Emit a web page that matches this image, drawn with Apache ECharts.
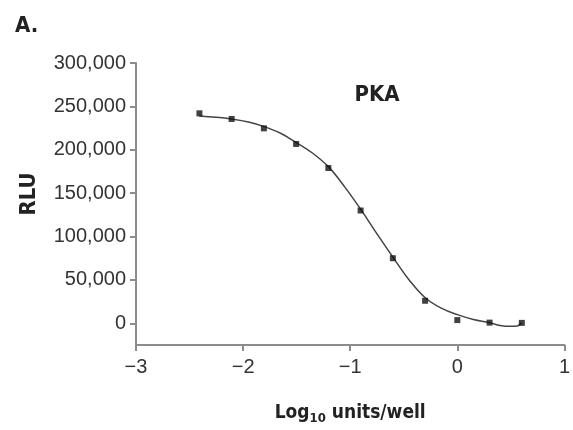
<!DOCTYPE html>
<html>
<head>
<meta charset="utf-8">
<script src="https://cdn.jsdelivr.net/npm/echarts@6/dist/echarts.min.js"></script>
<style>
  html, body { margin: 0; padding: 0; background: #fff; }
  #chart { width: 573px; height: 430px; }
</style>
</head>
<body>
<div id="chart"></div>
<script>
// measured points (log10 units/well vs RLU)
var pointX = [-2.408, -2.107, -1.806, -1.505, -1.204, -0.903, -0.602, -0.301, 0, 0.301, 0.602];
var pointY = [242000, 235500, 224700, 206700, 179000, 130000, 75000, 26000, 3700, 800, 500];

// fitted curve
var curveX = [-2.41, -2.25, -2.11, -1.95, -1.81, -1.65, -1.5, -1.35, -1.2, -1.05, -0.9, -0.75, -0.6, -0.45, -0.3, -0.15, 0, 0.15, 0.3, 0.4, 0.5, 0.56, 0.6];
var curveY = [239000, 237500, 235500, 232000, 227000, 219000, 208000, 196000, 180000, 157000, 131000, 103000, 76000, 50000, 29500, 17500, 10000, 4500, 800, -2500, -3500, -3000, 200];

var yTicks = [0, 50000, 100000, 150000, 200000, 250000, 300000];
var xTicks = [-3, -2, -1, 0, 1];

var boldFont = "'Liberation Sans Narrow', 'DejaVu Sans Condensed', 'Liberation Sans', sans-serif";
var axisGray = '#8c8c8c';

var myChart = echarts.init(document.getElementById('chart'));

function zip(a, b) {
    var res = [];
    for (var i = 0; i < a.length; i++) {
        res.push([a[i], b[i]]);
    }
    return res;
}

var option = {
    animation: false,
    title: [{
        text: 'A.',
        left: 10,
        top: 10,
        textStyle: { fontFamily: boldFont, fontWeight: 'bold', fontSize: 22, color: '#222' }
    }, {
        text: 'PKA',
        left: 372,
        top: 79,
        textAlign: 'center',
        textStyle: { fontFamily: boldFont, fontWeight: 'bold', fontSize: 22, color: '#222' }
    }],
    grid: {
        left: 136,
        right: 2,
        top: 63,
        bottom: 78,
        containLabel: false
    },
    xAxis: {
        type: 'value',
        min: -3,
        max: 1,
        interval: 1,
        name: '{a|Log}{sub|10}{a| units/well}',
        nameLocation: 'middle',
        nameGap: 56,
        nameTextStyle: {
            rich: {
                a: { fontFamily: boldFont, fontWeight: 'bold', fontSize: 19, color: '#222' },
                sub: { fontFamily: boldFont, fontWeight: 'bold', fontSize: 13, color: '#222', padding: [11, 0, 0, 0] }
            }
        },
        splitLine: { show: false },
        axisLine: { onZero: false, lineStyle: { color: axisGray, width: 2 } },
        axisTick: { length: 6, lineStyle: { color: axisGray, width: 2 } },
        axisLabel: {
            margin: 12,
            fontFamily: "'Liberation Sans', Arial, sans-serif",
            fontSize: 20,
            color: '#333',
            formatter: function (v) {
                return v < 0 ? '\u2212' + Math.abs(v) : String(v);
            }
        }
    },
    yAxis: {
        type: 'value',
        min: -25000,
        max: 300000,
        name: 'RLU',
        nameLocation: 'middle',
        nameGap: 96,
        nameTextStyle: {
            fontFamily: boldFont, fontWeight: 'bold', fontSize: 22, color: '#222',
            padding: [0, 0, 0, 20]
        },
        splitLine: { show: false },
        axisLine: { show: true, onZero: false, lineStyle: { color: axisGray, width: 2 } },
        axisTick: { show: true, length: 6, customValues: yTicks, lineStyle: { color: axisGray, width: 2 } },
        axisLabel: {
            margin: 10,
            customValues: yTicks,
            fontFamily: "'Liberation Sans', Arial, sans-serif",
            fontSize: 20,
            color: '#333',
            formatter: function (v) {
                return v.toLocaleString('en-US');
            }
        }
    },
    series: [{
        name: 'fit',
        type: 'line',
        data: zip(curveX, curveY),
        smooth: 0.4,
        showSymbol: false,
        lineStyle: { color: '#444', width: 1.5 },
        z: 2
    }, {
        name: 'PKA',
        type: 'scatter',
        data: zip(pointX, pointY),
        symbol: 'rect',
        symbolSize: 6,
        itemStyle: { color: '#111' },
        z: 3
    }]
};
myChart.setOption(option);
window.onresize = myChart.resize;
</script>
</body>
</html>
